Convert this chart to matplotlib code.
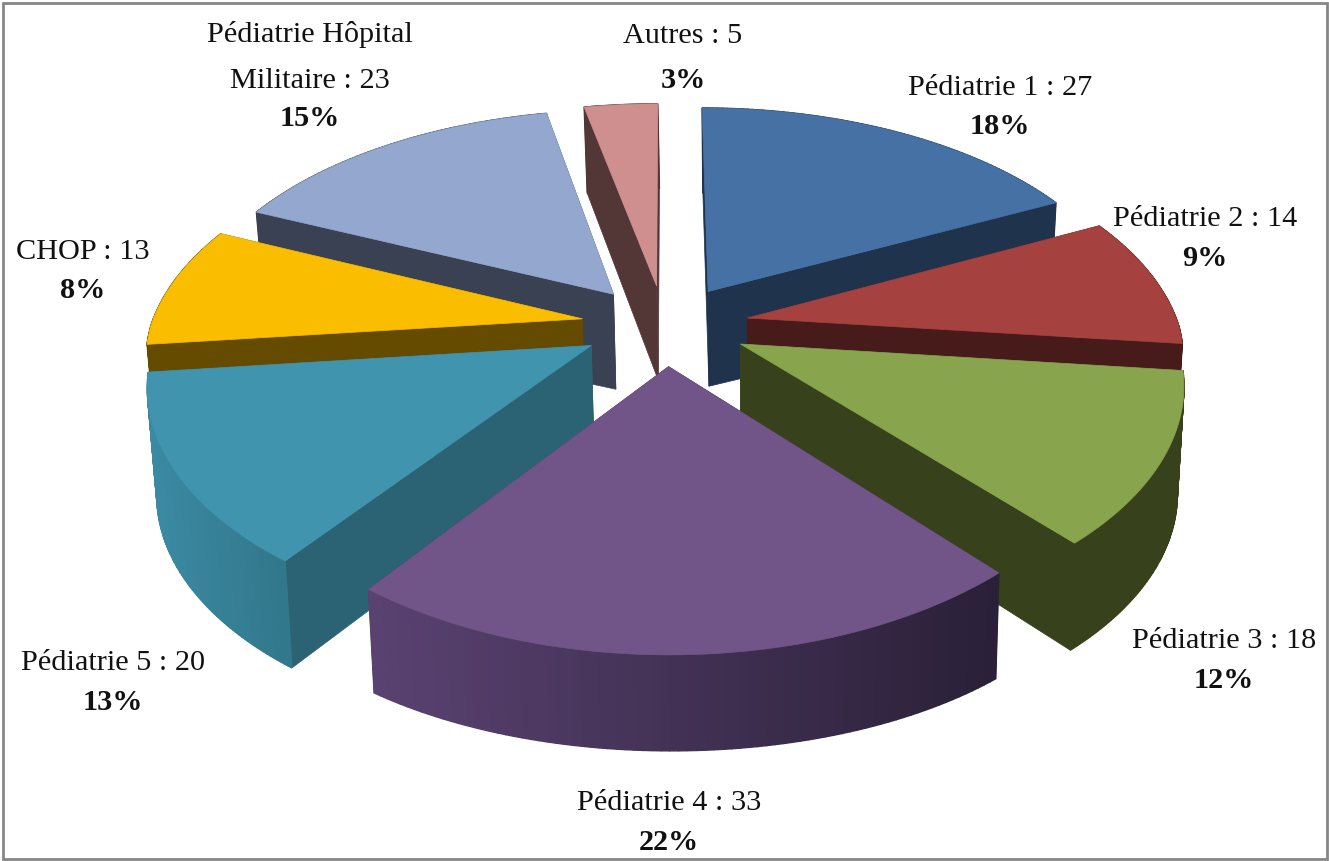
import matplotlib
matplotlib.use('Agg')
import matplotlib.pyplot as plt
from matplotlib.colors import to_rgb
from matplotlib.patches import Rectangle
import numpy as np

plt.rcParams['font.family'] = ['Liberation Serif', 'DejaVu Serif']

# Data
names = ['Pédiatrie 1', 'Pédiatrie 2', 'Pédiatrie 3', 'Pédiatrie 4',
         'Pédiatrie 5', 'CHOP', 'Pédiatrie Hôpital\nMilitaire', 'Autres']
values = [27, 14, 18, 33, 20, 13, 23, 5]

top_colors = ['#4571a5', '#a54240', '#88a44c', '#715589',
              '#4094ae', '#fbbd00', '#93a7cf', '#ce8f8e']
cut_colors = ['#1f334d', '#461b19', '#37421d', '#3b2d4a',
              '#2b6374', '#654b00', '#3a4152', '#533737']
wall_left = ['#1f334d', '#461b19', '#37421d', '#5a4271',
             '#3b8aa3', '#654b00', '#3a4152', '#533737']
wall_right = ['#1f334d', '#461b19', '#37421d', '#2a2038',
              '#32778b', '#654b00', '#3a4152', '#533737']

# label x, y of name text and y of percent text (pixels)
label_x = [1000, 1205, 1224, 669, 113, 83, 310, 683]
label_y = [88, 219, 641, 803, 663, 252, 58, 36]
pct_y = [127, 258, 680, 842, 702, 290, 118, 80]

# Back to front, so nearer slices cover the others
draw_order = [7, 6, 0, 1, 5, 2, 4, 3]

# Projection of the tilted pie
cx, cy = 665, 325
radius_x, radius_y = 431, 224.5
persp = 0.167
persp_front = 0.15
explode_x, explode_y = 0.195, 0.18
depth = 96


def project(u, v, low=False):
    u, v = np.asarray(u, float), np.asarray(v, float)
    s = 1 / (1 + persp * v)
    sx = 1 / (1 + np.where(v < 0, persp_front, persp) * v)
    x = cx + radius_x * u * sx
    y = cy - radius_y * v * s
    if low:
        # the lower rim leans inward and is deeper towards the sides
        x = x + 1.5 - 7 * u
        y = y + depth * (1 - 0.1 * np.maximum(v, 0)) + 22 * np.minimum(u ** 2, 0.5)
    return x, y


fig = plt.figure(figsize=(13.29, 8.61), dpi=100)
ax = fig.add_axes([0, 0, 1, 1])
ax.set_xlim(0, 1329)
ax.set_ylim(861, 0)
ax.axis('off')

total = sum(values)
edges = np.cumsum([0] + values) / total * 2 * np.pi

for i in draw_order:
    a0, a1 = edges[i], edges[i + 1]
    mid = (a0 + a1) / 2
    u0 = explode_x * np.sin(mid)
    v0 = explode_y * np.cos(mid)
    phi = np.linspace(a0, a1, 80)
    us = u0 + np.sin(phi)
    vs = v0 + np.cos(phi)

    px, py = project(u0, v0)
    qx, qy = project(u0, v0, low=True)

    # the two cut faces
    for j in (0, -1):
        tx, ty = project(us[j], vs[j])
        lx, ly = project(us[j], vs[j], low=True)
        ax.fill([px, tx, lx, qx], [py, ty, ly, qy],
                color=cut_colors[i], lw=0.5)

    # outer wall in strips, for the horizontal shading
    xt, yt = project(us, vs)
    xl, yl = project(us, vs, low=True)
    c0, c1 = np.array(to_rgb(wall_left[i])), np.array(to_rgb(wall_right[i]))
    for k in range(len(phi) - 1):
        f = (xt[k] - xt.min()) / (xt.max() - xt.min())
        ax.fill([xt[k], xt[k + 1], xl[k + 1], xl[k]],
                [yt[k], yt[k + 1], yl[k + 1], yl[k]],
                color=c0 + (c1 - c0) * f, lw=1)

    # top face
    ax.fill(np.r_[px, xt], np.r_[py, yt], color=top_colors[i], lw=0.5)

for i, (name, val) in enumerate(zip(names, values)):
    ax.text(label_x[i], label_y[i], f'{name} : {val}', ha='center', va='center',
            fontsize=21.8, color='#111111', linespacing=2.0)
    ax.text(label_x[i], pct_y[i], f'{round(val / total * 100)}%', ha='center',
            va='center', fontsize=21.8, fontweight='bold', color='#111111')

ax.add_patch(Rectangle((2.5, 2.5), 1324, 856, fill=False, ec='#868686', lw=2))

fig.savefig('out.png', dpi=100, facecolor='white')
